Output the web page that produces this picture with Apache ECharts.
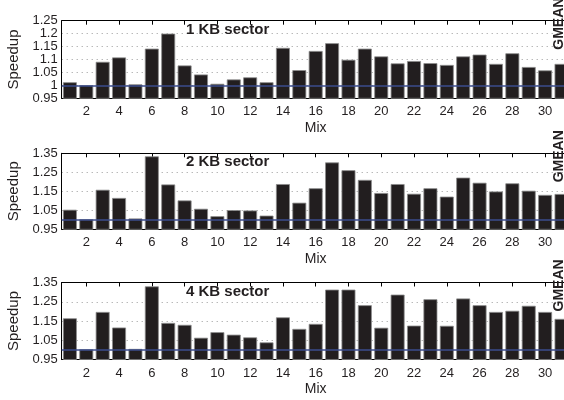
<!DOCTYPE html>
<html>
<head>
<meta charset="utf-8">
<script src="https://cdn.jsdelivr.net/npm/echarts@6/dist/echarts.min.js"></script>
<style>
  html, body { margin: 0; padding: 0; background: #fff; }
  #chart { width: 564px; height: 400px; }
</style>
</head>
<body>
<div id="chart"></div>
<script>
// Workload mixes 1..30 plus the geometric mean bar
const mixes = ['1','2','3','4','5','6','7','8','9','10','11','12','13','14','15',
               '16','17','18','19','20','21','22','23','24','25','26','27','28','29','30','GMEAN'];

// Speedup per mix for each sector size
const speedup1KB = [1.012, 1.001, 1.091, 1.108, 1.004, 1.142, 1.200, 1.077, 1.042, 1.006,
                    1.023, 1.031, 1.012, 1.145, 1.059, 1.133, 1.163, 1.099, 1.142, 1.112,
                    1.085, 1.094, 1.086, 1.079, 1.112, 1.119, 1.083, 1.124, 1.071, 1.058, 1.083];
const speedup2KB = [1.053, 1.003, 1.158, 1.115, 1.007, 1.334, 1.186, 1.102, 1.058, 1.019,
                    1.051, 1.049, 1.022, 1.188, 1.090, 1.166, 1.302, 1.261, 1.210, 1.141,
                    1.188, 1.137, 1.166, 1.122, 1.222, 1.195, 1.149, 1.192, 1.153, 1.131, 1.136];
const speedup4KB = [1.164, 1.003, 1.197, 1.116, 1.005, 1.330, 1.140, 1.130, 1.063, 1.092,
                    1.079, 1.065, 1.039, 1.169, 1.109, 1.135, 1.313, 1.313, 1.232, 1.115,
                    1.287, 1.126, 1.263, 1.125, 1.267, 1.232, 1.197, 1.203, 1.229, 1.197, 1.161];

const panelTitles = ['1 KB sector', '2 KB sector', '4 KB sector'];

// y-axis ticks: [min, max, step]
const yTicks1KB = [0.95, 1.25, 0.05];
const yTicks2KB = [0.95, 1.35, 0.1];
const yTicks4KB = [0.95, 1.35, 0.1];

const baseline = 1;

const FONT = '"Liberation Sans", Arial, Helvetica, sans-serif';
const TEXT = '#231f20';

const panels = [
  { values: speedup1KB, ticks: yTicks1KB, top: 20.7, height: 77.6 },
  { values: speedup2KB, ticks: yTicks2KB, top: 153.3, height: 76 },
  { values: speedup4KB, ticks: yTicks4KB, top: 282.5, height: 77 }
];

const GRID_LEFT = 61.7;
const GRID_WIDTH = 508;   // 31 slots; the GMEAN slot runs past the right edge

const isEvenMix = (i) => i % 2 === 1 && i < 30;

const option = {
  animation: false,
  backgroundColor: '#fff',
  textStyle: { fontFamily: FONT },
  title: panels.map((p, k) => ({
    text: panelTitles[k],
    left: 186,
    top: p.top + 1.5,
    padding: 0,
    textStyle: { fontFamily: FONT, fontSize: 15, fontWeight: 'bold', color: TEXT }
  })),
  grid: panels.map(p => ({
    left: GRID_LEFT, top: p.top, width: GRID_WIDTH, height: p.height,
    containLabel: false, outerBoundsMode: 'none'
  })),
  xAxis: panels.flatMap((p, k) => [
    {
      type: 'category', gridIndex: k, data: mixes, position: 'bottom',
      name: 'Mix', nameLocation: 'middle', nameGap: 23,
      nameTextStyle: { fontFamily: FONT, fontSize: 14, color: TEXT },
      axisLine: { show: true, onZero: false, lineStyle: { color: '#000', width: 1 } },
      axisTick: { show: true, inside: true, length: 4, alignWithLabel: true,
                  interval: isEvenMix, lineStyle: { color: '#000' } },
      axisLabel: { interval: isEvenMix, margin: 7, fontSize: 13, color: TEXT, fontFamily: FONT },
      splitLine: { show: false }
    },
    {
      type: 'category', gridIndex: k, data: mixes, position: 'top',
      axisLine: { show: true, onZero: false, lineStyle: { color: '#000', width: 1 } },
      axisTick: { show: true, inside: true, length: 4, alignWithLabel: true,
                  interval: isEvenMix, lineStyle: { color: '#000' } },
      axisLabel: { show: false },
      splitLine: { show: false }
    }
  ]),
  yAxis: panels.map((p, k) => ({
    type: 'value', gridIndex: k,
    min: p.ticks[0], max: p.ticks[1], interval: p.ticks[2],
    name: 'Speedup', nameLocation: 'middle', nameGap: 37,
    nameTextStyle: { fontFamily: FONT, fontSize: 15, color: TEXT },
    axisLine: { show: true, lineStyle: { color: '#000', width: 1 } },
    axisTick: { show: false },
    axisLabel: { margin: 4, fontSize: 13, color: TEXT, fontFamily: FONT },
    splitLine: { show: true, lineStyle: { color: '#9a9a9a', width: 1, type: [1, 4] } }
  })),
  series: panels.map((p, k) => ({
    name: panelTitles[k],
    type: 'bar',
    xAxisIndex: k * 2,
    yAxisIndex: k,
    data: p.values,
    barCategoryGap: '15%',
    itemStyle: { color: '#221e1f', borderColor: '#8c8c8c', borderWidth: 0.8 },
    markLine: {
      silent: true, symbol: 'none',
      label: { show: false },
      lineStyle: { color: '#3b4d8e', width: 1.5, type: 'solid' },
      data: [{ yAxis: baseline }]
    }
  }))
};

const chart = echarts.init(document.getElementById('chart'), null, { renderer: 'canvas' });
chart.setOption(option);

// Rotated GMEAN label over the last slot of each panel, straddling the top frame
chart.setOption({
  graphic: panels.map((p, k) => {
    const x = chart.convertToPixel({ xAxisIndex: k * 2 }, 'GMEAN');
    return {
      type: 'text',
      x: x - 2,
      y: p.top + 29,
      rotation: Math.PI / 2,
      z: 100,
      style: {
        text: 'GMEAN',
        fontFamily: FONT, fontSize: 14, fontWeight: 'bold', fill: TEXT,
        align: 'left', verticalAlign: 'middle'
      }
    };
  })
});
</script>
</body>
</html>
